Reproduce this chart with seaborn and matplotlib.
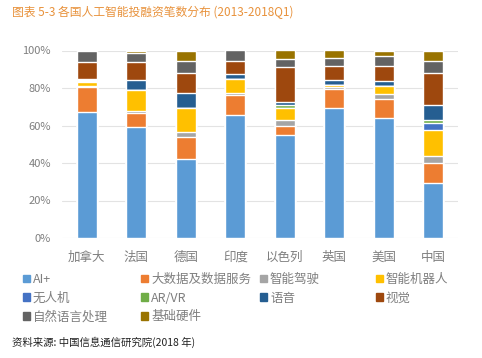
import numpy as np
import pandas as pd
import matplotlib
matplotlib.use("Agg")
import matplotlib.pyplot as plt
from matplotlib.patches import Patch
import seaborn as sns

countries = ['加拿大', '法国', '德国', '印度', '以色列', '英国', '美国', '中国']
categories = ['AI+', '大数据及数据服务', '智能驾驶', '智能机器人', '无人机',
              'AR/VR', '语音', '视觉', '自然语言处理', '基础硬件']

# share of deal counts (%), bottom to top
ai_plus    = [67.0, 59.0, 42.3, 65.7, 54.8, 69.4, 63.8, 29.3]
big_data   = [13.5, 7.6, 11.4, 10.7, 5.0, 10.1, 10.1, 10.7]
auto_drive = [0.5, 1.4, 2.8, 0.9, 3.0, 0.9, 2.7, 3.9]
robot      = [2.0, 11.0, 12.8, 7.5, 6.7, 1.4, 4.4, 13.5]
drone      = [0.5, 0.0, 0.0, 0.0, 0.0, 0.0, 0.0, 3.9]
ar_vr      = [1.0, 0.0, 0.0, 0.0, 1.2, 0.0, 0.0, 1.8]
voice      = [0.5, 5.3, 8.0, 2.7, 1.8, 2.7, 2.7, 8.0]
vision     = [9.0, 9.8, 10.7, 6.7, 18.7, 7.1, 8.0, 16.9]
nlp        = [5.5, 4.8, 6.2, 5.8, 4.4, 4.4, 5.3, 6.2]
hardware   = [0.5, 1.1, 5.8, 0.0, 4.4, 4.0, 3.0, 5.8]

colors = ['#5B9BD5', '#ED7D31', '#A5A5A5', '#FFC000', '#4472C4',
          '#70AD47', '#255E91', '#9E480E', '#636363', '#997300']

df = pd.DataFrame(np.array([ai_plus, big_data, auto_drive, robot, drone,
                            ar_vr, voice, vision, nlp, hardware]).T,
                  index=countries, columns=categories)
cum = df.cumsum(axis=1)

sns.set_style("white")
plt.rcParams['font.family'] = ['Noto Sans CJK SC', 'DejaVu Sans']

fig = plt.figure(figsize=(4.82, 3.58), dpi=100)
ax = fig.add_axes([62/482, 1-238/358, 396/482, 187.5/358])

# stacked bars: draw cumulative totals from the top segment down
for i in range(len(categories) - 1, -1, -1):
    sns.barplot(x=countries, y=cum.iloc[:, i].values, color=colors[i],
                width=0.4, saturation=1, ax=ax, zorder=3)

ax.set_ylim(0, 100)
ax.set_yticks(range(0, 101, 20))
ax.set_yticklabels([f'{v}%' for v in range(0, 101, 20)])
ax.yaxis.grid(True, color='#E3E3E3', lw=0.8, zorder=0)
ax.set_axisbelow(True)
for s in ax.spines.values():
    s.set_visible(False)
ax.tick_params(axis='both', length=0, colors='#7F7F7F')
ax.tick_params(axis='y', labelsize=8, pad=8)
ax.tick_params(axis='x', labelsize=9, pad=9)

# legend: four columns as in the source
col_items = [[0, 4, 8], [1, 5, 9], [2, 6], [3, 7]]
col_x = [23, 141, 260, 376]
for items, x in zip(col_items, col_x):
    handles = [Patch(color=colors[i], label=categories[i]) for i in items]
    fig.legend(handles=handles, loc='upper left',
               bbox_to_anchor=(x/482, 1-273/358), frameon=False,
               fontsize=9, handlelength=0.55, handleheight=0.55,
               handletextpad=0.25, labelspacing=0.45, borderpad=0,
               borderaxespad=0, labelcolor='#7F7F7F')

fig.text(12/482, 1-12/358, '图表 5-3 各国人工智能投融资笔数分布 (2013-2018Q1)',
         color='#E8923C', fontsize=8.5, va='center')
fig.text(12/482, 1-342/358, '资料来源: 中国信息通信研究院(2018 年)',
         color='#222222', fontsize=7.5, va='center')

fig.savefig('out.png', dpi=100)
